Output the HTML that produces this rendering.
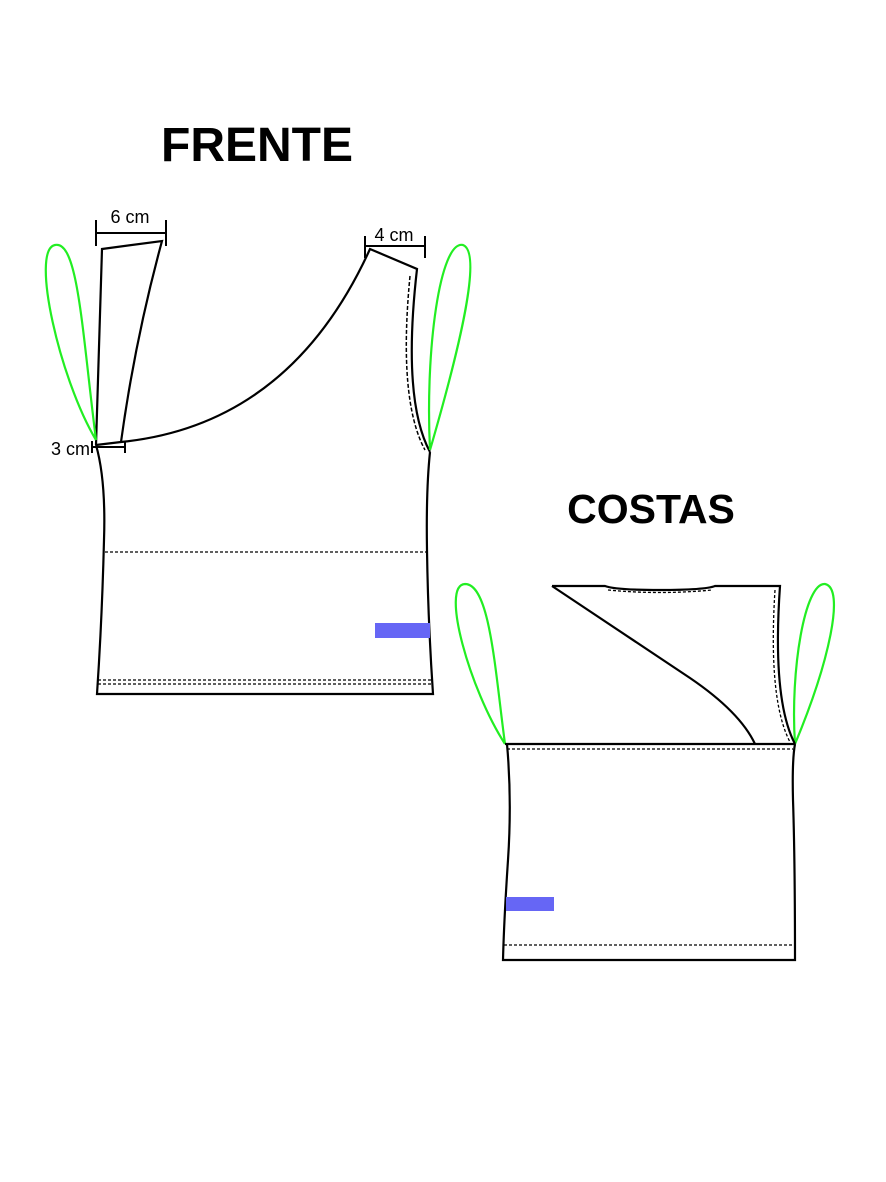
<!DOCTYPE html>
<html><head><meta charset="utf-8"><style>
html,body{margin:0;padding:0;background:#fff;}
svg{display:block;}
text{font-family:"Liberation Sans",sans-serif;fill:#000;}
</style></head><body>
<svg width="886" height="1182" viewBox="0 0 886 1182" xmlns="http://www.w3.org/2000/svg">
<rect width="886" height="1182" fill="#fff"/>
<text x="257" y="161" font-size="48" font-weight="bold" text-anchor="middle">FRENTE</text>
<text x="651" y="523" font-size="41" font-weight="bold" text-anchor="middle">COSTAS</text>

<g fill="none" stroke="#000" stroke-width="2.2">
<path d="M96,445 L102,249 L162,241 Q135,340 121,442"/>
<path d="M96,445 L121,442 Q290,425 370,249 L417,269 Q402,400 430,452"/>
<path d="M96,445 Q106,480 104,540 Q102,620 97,694 L433,694 Q428,620 427,550 Q426,490 430,452"/>
</g>
<path d="M410,276 Q398,400 425,450" fill="none" stroke="#000" stroke-width="1.5" stroke-dasharray="4,2"/>
<line x1="105" y1="552" x2="426" y2="552" stroke="#000" stroke-width="1.2" stroke-dasharray="3,2"/>
<line x1="98" y1="680" x2="432" y2="680" stroke="#000" stroke-width="1.2" stroke-dasharray="3,2"/>
<line x1="98" y1="684" x2="432" y2="684" stroke="#000" stroke-width="1.2" stroke-dasharray="3,2"/>
<rect x="375" y="623" width="55" height="15" fill="#6666f5"/>

<g stroke="#000" stroke-width="2" fill="none">
<path d="M96,220 V246 M96,233 H166 M166,220 V246"/>
<path d="M365,236 V258 M365,246 H425 M425,236 V258"/>
<path d="M92,441 V453 M92,447 H125 M125,441 V453"/>
</g>
<text x="130" y="223" font-size="18" text-anchor="middle">6 cm</text>
<text x="394" y="241" font-size="18" text-anchor="middle">4 cm</text>
<text x="90" y="455" font-size="18" text-anchor="end">3 cm</text>

<g fill="none" stroke="#22ee22" stroke-width="2.2">
<path d="M96,440 C60,380 30,250 55,245 C78,240 82,330 96,440"/>
<path d="M430,450 C425,350 440,240 463,245 C482,252 462,340 430,450"/>
<path d="M505,744 C470,690 440,585 465,584 C490,584 495,670 505,744"/>
<path d="M795,744 C790,670 805,582 825,584 C845,588 830,660 795,744"/>
</g>

<g fill="none" stroke="#000" stroke-width="2.2">
<path d="M552,586 L605,586 Q615,590 660,590 Q705,590 715,586 L780,586 Q772,700 795,744"/>
<path d="M552,586 L690,678 Q740,712 755,744"/>
<path d="M505,744 L795,744"/>
<path d="M507,744 Q512,800 508,860 Q504,920 503,960 L795,960 Q795,860 793,800 Q792,760 795,744"/>
</g>
<path d="M608,590 Q660,595 712,590" fill="none" stroke="#000" stroke-width="1.3" stroke-dasharray="3,2"/>
<path d="M775,590 Q768,700 790,742" fill="none" stroke="#000" stroke-width="1.3" stroke-dasharray="3,2"/>
<line x1="507" y1="749" x2="793" y2="749" stroke="#000" stroke-width="1.2" stroke-dasharray="3,2"/>
<line x1="504" y1="945" x2="795" y2="945" stroke="#000" stroke-width="1.2" stroke-dasharray="3,2"/>
<rect x="506" y="897" width="48" height="14" fill="#6666f5"/>
</svg>
</body></html>
